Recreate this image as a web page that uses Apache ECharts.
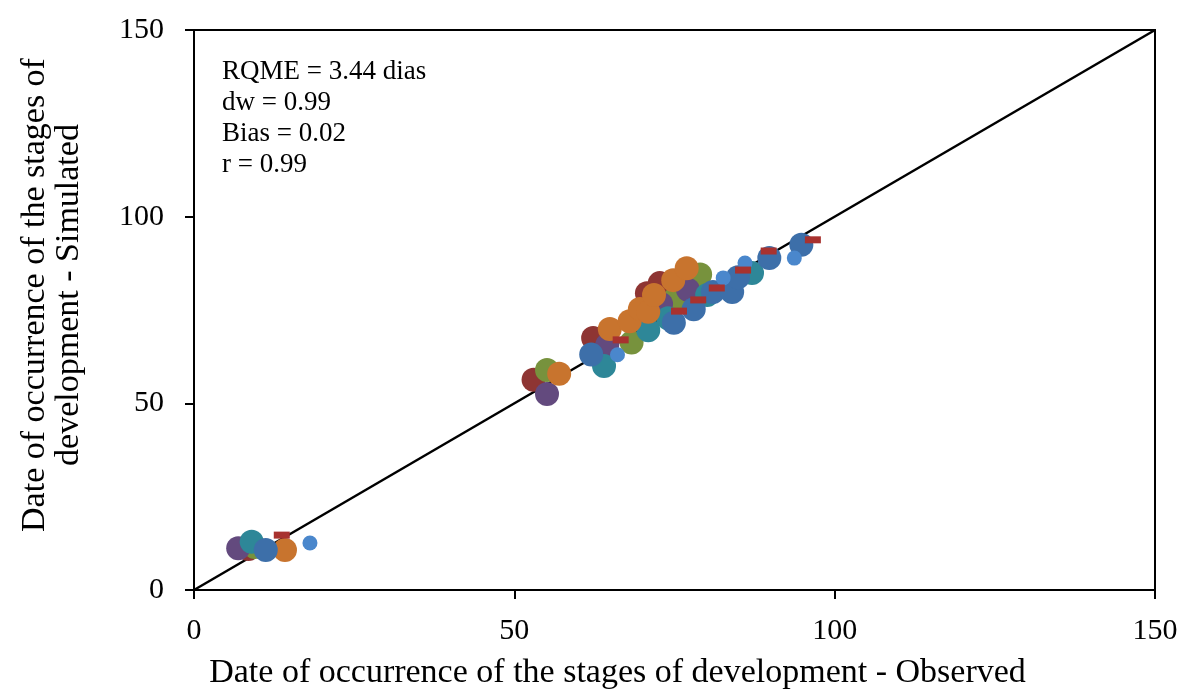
<!DOCTYPE html>
<html>
<head>
<meta charset="utf-8">
<script src="https://cdn.jsdelivr.net/npm/echarts@6/dist/echarts.min.js"></script>
<style>
  html, body { margin: 0; padding: 0; background: #fff; }
  #chart { width: 1180px; height: 693px; }
</style>
</head>
<body>
<div id="chart"></div>
<script>
// observed vs simulated dates (days), one array per series
var darkRed = [[53, 56.3], [62.3, 67.5], [70.7, 79.5], [72.7, 82.2], [8.5, 11]];
var green = [[55.1, 58.9], [68.3, 66.3], [79, 84.5], [75.1, 78], [9.5, 11.5]];
var purple = [[55.1, 52.5], [64.5, 65.6], [72.9, 76.6], [77.1, 80.4], [6.9, 11.2]];
var teal = [[64, 60], [70.9, 69.6], [74, 72.8], [80.1, 79], [87.1, 84.9], [9, 12.9]];
var orange = [[57, 57.9], [64.9, 69.9], [68, 72], [69.6, 75.3], [70.9, 74.5], [71.8, 79], [74.8, 83], [76.9, 86.2], [14.2, 10.7]];
var blue = [[62, 63.1], [74.9, 71.6], [78, 75.2], [81, 79.8], [84, 79.8], [84.9, 83.8], [89.8, 88.9], [94.8, 92.5], [11.2, 10.7]];
var lightBlue = [[66.1, 63], [82.6, 83.6], [86, 87.6], [93.7, 88.9], [18.1, 12.6]];
var redDash = [[13.7, 14.7], [66.6, 67], [75.7, 74.7], [78.7, 77.7], [81.6, 80.9], [85.7, 85.7], [89.7, 90.8], [96.6, 93.8]];
var oneToOne = [[0, 0], [150, 150]];
var stats = ['RQME = 3.44 dias', 'dw = 0.99', 'Bias = 0.02', 'r = 0.99'];

var font = '"Liberation Serif", "Times New Roman", serif';

function dots(data, color, size) {
  return {
    type: 'scatter',
    data: data,
    symbol: 'circle',
    symbolSize: size,
    itemStyle: { color: color, opacity: 1 },
    z: 3
  };
}

var chart = echarts.init(document.getElementById('chart'));
chart.setOption({
  animation: false,
  grid: {
    left: 194,
    right: 25,
    top: 30,
    bottom: 103,
    outerBoundsMode: 'none',
    containLabel: false,
    show: true,
    borderColor: '#000',
    borderWidth: 2
  },
  xAxis: {
    type: 'value',
    min: 0,
    max: 150,
    interval: 50,
    name: 'Date of occurrence of the stages of development - Observed',
    nameLocation: 'middle',
    nameGap: 66,
    nameTextStyle: { fontFamily: font, fontSize: 34, color: '#000', padding: [0, 114, 0, 0] },
    axisLine: { show: true, lineStyle: { color: '#000', width: 2 } },
    axisTick: { show: true, inside: false, length: 9, lineStyle: { color: '#000', width: 2 } },
    axisLabel: { fontFamily: font, fontSize: 30, color: '#000', margin: 26 },
    splitLine: { show: false }
  },
  yAxis: {
    type: 'value',
    min: 0,
    max: 150,
    interval: 50,
    name: 'Date of occurrence of the stages of\ndevelopment - Simulated',
    nameLocation: 'middle',
    nameGap: 108,
    nameTextStyle: { fontFamily: font, fontSize: 34, color: '#000', lineHeight: 34, padding: [0, 0, 0, 30] },
    axisLine: { show: true, lineStyle: { color: '#000', width: 2 } },
    axisTick: { show: true, inside: false, length: 9, lineStyle: { color: '#000', width: 2 } },
    axisLabel: { fontFamily: font, fontSize: 30, color: '#000', margin: 30 },
    splitLine: { show: false }
  },
  graphic: [{
    type: 'text',
    left: 222,
    top: 56,
    style: {
      text: stats.join('\n'),
      fontFamily: font,
      fontSize: 27,
      lineHeight: 31,
      fill: '#000'
    }
  }],
  series: [
    {
      type: 'line',
      data: oneToOne,
      symbol: 'none',
      lineStyle: { color: '#000', width: 2.5 },
      z: 2
    },
    dots(darkRed, '#8E3533', 24),
    dots(green, '#77923D', 24),
    dots(purple, '#634A7E', 24),
    dots(teal, '#2E8798', 24),
    dots(orange, '#C8742E', 24),
    dots(blue, '#3D6FA9', 24),
    dots(lightBlue, '#4A87CC', 15),
    {
      type: 'scatter',
      data: redDash,
      symbol: 'rect',
      symbolSize: [16, 7],
      itemStyle: { color: '#A8322F', opacity: 1 },
      z: 4
    }
  ]
});
</script>
</body>
</html>
